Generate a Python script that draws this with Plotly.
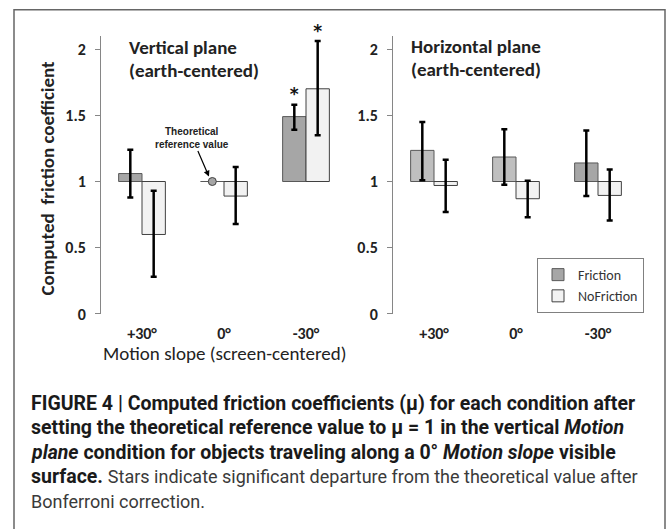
import plotly.graph_objects as go

# ---------------- data ----------------
categories = ["+30°", "0°", "-30°"]

# Vertical plane (earth-centered)
vert_friction = [1.06, 1.00, 1.49]
vert_friction_hi = [1.24, None, 1.58]
vert_friction_lo = [0.88, None, 1.39]
vert_nofriction = [0.60, 0.89, 1.70]
vert_nofriction_hi = [0.93, 1.11, 2.06]
vert_nofriction_lo = [0.28, 0.68, 1.35]

# Horizontal plane (earth-centered)
hor_friction = [1.235, 1.185, 1.14]
hor_friction_hi = [1.45, 1.395, 1.385]
hor_friction_lo = [1.01, 0.975, 0.89]
hor_nofriction = [0.97, 0.87, 0.895]
hor_nofriction_hi = [1.165, 1.005, 1.09]
hor_nofriction_lo = [0.77, 0.73, 0.705]

reference_value = 1.0
reference_category = "0°"
significant_vert_friction = ["-30°"]
significant_vert_nofriction = ["-30°"]

y_ticks = [0, 0.5, 1, 1.5, 2]
y_ticktext = ["0", "0.5", "1", "1.5", "2"]

# ---------------- styling ----------------
W, H = 669, 529
FONT = "Carlito, Lato, sans-serif"
CAP_FONT = "Liberation Sans Narrow, Roboto, Arial, sans-serif"
AX_COL = "#868686"
DARK_F = "#a6a6a6"
LIGHT_F = "#bfbfbf"
NOF = "#f2f2f2"
Y_MAX = 2.1
BASE = 1.0


def px_x(p):
    return p / W


def px_y(p):
    return 1 - p / H


def err(vals, hi, lo):
    plus = [None if h is None else h - v for v, h in zip(vals, hi)]
    minus = [None if l is None else v - l for v, l in zip(vals, lo)]
    return plus, minus


fig = go.Figure()


def add_panel(xa, ya, fvals, fhi, flo, nvals, nhi, nlo, fcolors, show_legend):
    fp, fm = err(fvals, fhi, flo)
    np_, nm = err(nvals, nhi, nlo)
    fig.add_trace(go.Bar(
        x=categories, y=[v - BASE for v in fvals], base=BASE,
        name="Friction", offsetgroup="F", showlegend=show_legend,
        marker=dict(color=fcolors, line=dict(color="#595959", width=1)),
        error_y=dict(type="data", array=fp, arrayminus=fm, symmetric=False,
                     color="black", thickness=2.5, width=3),
        xaxis=xa, yaxis=ya, hoverinfo="skip"))
    fig.add_trace(go.Bar(
        x=categories, y=[v - BASE for v in nvals], base=BASE,
        name="NoFriction", offsetgroup="N", showlegend=show_legend,
        marker=dict(color=NOF, line=dict(color="#404040", width=1)),
        error_y=dict(type="data", array=np_, arrayminus=nm, symmetric=False,
                     color="black", thickness=2.5, width=3),
        xaxis=xa, yaxis=ya, hoverinfo="skip"))


add_panel("x", "y", vert_friction, vert_friction_hi, vert_friction_lo,
          vert_nofriction, vert_nofriction_hi, vert_nofriction_lo,
          [DARK_F] * 3, True)
add_panel("x2", "y2", hor_friction, hor_friction_hi, hor_friction_lo,
          hor_nofriction, hor_nofriction_hi, hor_nofriction_lo,
          [LIGHT_F, LIGHT_F, DARK_F], False)

# significance stars (grouped scatter aligned with bars)
fy = [vert_friction_hi[categories.index(c)] for c in significant_vert_friction]
ny = [vert_nofriction_hi[categories.index(c)] for c in significant_vert_nofriction]
star_font = dict(family="DejaVu Sans, sans-serif", size=17, color="#111", weight="bold")
fig.add_trace(go.Scatter(x=significant_vert_friction, y=fy, mode="text", text=["*"] * len(fy),
                         textposition="top center", offsetgroup="F", showlegend=False,
                         textfont=star_font, cliponaxis=False,
                         xaxis="x", yaxis="y", hoverinfo="skip"))
fig.add_trace(go.Scatter(x=significant_vert_nofriction, y=ny, mode="text", text=["*"] * len(ny),
                         textposition="top center", offsetgroup="N", showlegend=False,
                         textfont=star_font, cliponaxis=False,
                         xaxis="x", yaxis="y", hoverinfo="skip"))
# theoretical reference value marker
fig.add_trace(go.Scatter(x=[reference_category], y=[reference_value], mode="markers",
                         offsetgroup="F", showlegend=False, cliponaxis=False,
                         marker=dict(size=8, color=DARK_F, line=dict(color="#404040", width=1)),
                         xaxis="x", yaxis="y", hoverinfo="skip"))

y_dom = [px_y(320), px_y(320 - 135 * Y_MAX)]
x1_dom = [px_x(101), px_x(347)]
x2_dom = [px_x(393), px_x(639)]
base_pos = y_dom[0] + (y_dom[1] - y_dom[0]) * (BASE / Y_MAX)

xcommon = dict(type="category", categoryorder="array", categoryarray=categories,
               range=[-0.5, 2.5], showline=False, showgrid=False, zeroline=False,
               ticks="", ticklabelstandoff=8,
               tickfont=dict(family=FONT, size=16, color="#222", weight="bold"))
ycommon = dict(range=[0, Y_MAX], tickvals=y_ticks, ticktext=y_ticktext,
               showline=True, linecolor=AX_COL, linewidth=1, showgrid=False, zeroline=False,
               ticks="outside", ticklen=5, tickcolor=AX_COL, ticklabelstandoff=6,
               tickfont=dict(family=FONT, size=16, color="#222", weight="bold"), domain=y_dom)
overlay = dict(type="linear", range=[-0.5, 2.5], tickvals=[0.5, 1.5, 2.5],
               showline=True, linecolor=AX_COL, linewidth=1, ticks="outside", ticklen=5,
               tickcolor=AX_COL, showticklabels=False, showgrid=False, zeroline=False,
               anchor="free", position=base_pos)

fig.update_layout(
    width=W, height=H, margin=dict(l=0, r=0, t=0, b=0),
    paper_bgcolor="white", plot_bgcolor="rgba(0,0,0,0)",
    barmode="group", bargap=0.43, bargroupgap=0,
    scattermode="group", scattergap=0.43,
    xaxis=dict(domain=x1_dom, anchor="y", **xcommon),
    xaxis2=dict(domain=x2_dom, anchor="y2", **xcommon),
    xaxis3=dict(overlaying="x", **overlay),
    xaxis4=dict(overlaying="x2", **overlay),
    yaxis=dict(anchor="x", **ycommon),
    yaxis2=dict(anchor="x2", **ycommon),
    legend=dict(x=px_x(537), y=px_y(263), xanchor="left", yanchor="top",
                bordercolor="#808080", borderwidth=1, bgcolor="white",
                font=dict(family=FONT, size=14, color="#333"), itemwidth=30,
                tracegroupgap=0),
    showlegend=True,
)

ann = []


def text(x, y, s, size, weight="normal", anchor="left", color="#222", family=FONT, angle=0):
    ann.append(dict(x=px_x(x), y=px_y(y), xref="paper", yref="paper", text=s,
                    showarrow=False, xanchor=anchor, yanchor="middle", textangle=angle,
                    font=dict(family=family, size=size, color=color, weight=weight)))


# panel titles
text(127, 48, "Vertical plane", 19, "bold")
text(127, 72, "(earth-centered)", 19, "bold")
text(409, 47, "Horizontal plane", 19, "bold")
text(409, 71, "(earth-centered)", 19, "bold")
# axis titles
text(48, 182, "Computed  friction coefficient", 19, "bold", anchor="center", angle=-90)
text(224, 360, "Motion slope (screen-centered)", 19, "normal", anchor="center")
# theoretical reference callout
ann.append(dict(x=px_x(209), y=px_y(180), xref="paper", yref="paper",
                text="<b>Theoretical<br>reference value</b>", showarrow=True,
                ax=-17, ay=-39, arrowhead=2, arrowsize=1, arrowwidth=1.2, arrowcolor="black",
                font=dict(family="Arial, Liberation Sans, sans-serif", size=10, color="#222")))

# caption
REG = "<span style='color:#3a3a3a;font-size:18px'>"
cap_lines = [
    "<b>FIGURE 4 | Computed friction coefficients (μ) for each condition after</b>",
    "<b>setting the theoretical reference value to μ = 1 in the vertical <i>Motion</i></b>",
    "<b><i>plane</i> condition for objects traveling along a 0° <i>Motion slope</i> visible</b>",
    "<b>surface.</b> " + REG + "Stars indicate significant departure from the theoretical value after</span>",
    REG + "Bonferroni correction.</span>",
]
for i, line in enumerate(cap_lines):
    text(29, 411 + 25 * i, line, 19.5, "normal", color="#1a1a1a", family=CAP_FONT)

fig.update_layout(annotations=ann)

fig.add_shape(type="rect", xref="paper", yref="paper",
              x0=px_x(14), x1=px_x(665), y0=-0.05, y1=px_y(10),
              line=dict(color="#666666", width=1.5), fillcolor="rgba(0,0,0,0)")

fig.write_html(
    "out.html", config={"displayModeBar": False},
    post_script=(
        "document.documentElement.style.margin='0';"
        "document.body.style.margin='0';"
        "document.body.style.overflow='hidden';"
        "document.documentElement.style.overflow='hidden';"
        "var d=document.getElementById('{plot_id}');"
        "d.style.position='fixed';d.style.left='0px';d.style.top='0px';"
    ),
)
